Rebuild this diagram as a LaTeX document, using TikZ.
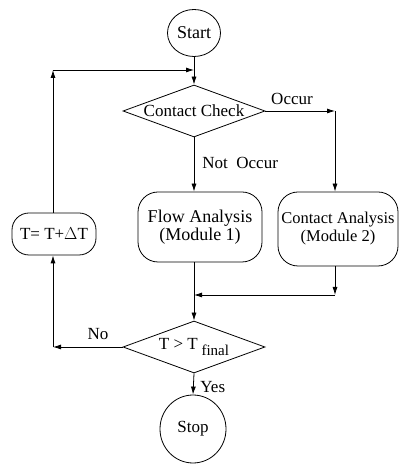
\documentclass[tikz,border=0pt]{standalone}
\usepackage{fontspec}
\setmainfont{Liberation Serif}
\usetikzlibrary{shapes.geometric,arrows.meta}
\begin{document}
\begin{tikzpicture}[x=1pt,y=1pt,
  line width=0.8pt,
  every node/.style={font=\fontsize{17}{19}\selectfont},
  arr/.style={-{Latex[length=8pt,width=5pt]}},
  term/.style={draw,ellipse,inner sep=0pt},
  rbox/.style={draw,rectangle,rounded corners=20pt,align=center,inner sep=0pt},
  dec/.style={draw,diamond,aspect=2.73,inner sep=0pt,minimum width=142pt,minimum height=52pt},
  lbl/.style={inner sep=1pt}]
\useasboundingbox (0,0) rectangle (400,465);
% nodes
\node[term,minimum width=53pt,minimum height=47pt,font=\fontsize{18}{20}\selectfont] (start) at (194,432) {Start};
\node[dec] (cc) at (194,354) {Contact Check};
\node[rbox,minimum width=124pt,minimum height=70pt,font=\fontsize{18}{18}\selectfont] (flow) at (200,238) {Flow Analysis\\(Module 1)};
\node[rbox,minimum width=120pt,minimum height=74pt,font=\fontsize{16.5}{18}\selectfont] (ca) at (338,236) {Contact Analysis\\(Module 2)};
\node[rbox,minimum width=84pt,minimum height=42pt,rounded corners=17pt] (inc) at (54,231) {T= T+$\Delta$T};
\node[dec] (fin) at (194,118) {T > T\raisebox{-0.65ex}{\fontsize{15}{15}\selectfont\ final}};
\node[term,minimum width=66pt,minimum height=68pt] (stop) at (193,36) {Stop};
% coordinates
\coordinate (tl) at (53,395);
\coordinate (tm) at (194,395);
\coordinate (occ) at (335,354);
\coordinate (m2) at (335,170);
\coordinate (mm) at (194,170);
\coordinate (no) at (53,118);
% connectors
\draw[arr] (start.south) -- (cc.north);
\draw[arr] (inc.north -| tl) -- (tl);
\draw[arr] (tl) -- (tm);
\draw[arr] (cc.east) -- (occ);
\draw[arr] (occ) -- (occ |- ca.north);
\draw[arr] (cc.south) -- (cc.south |- flow.north);
\draw[arr] (cc.south |- flow.south) -- (fin.north);
\draw[arr] (occ |- ca.south) -- (m2);
\draw[arr] (m2) -- (mm);
\draw[arr] (fin.west) -- (no);
\draw[arr] (no) -- (no |- inc.south);
\draw[arr] (fin.south) -- (stop.north);
% labels
\node[lbl] (lo) at (292,366) {Occur};
\node[lbl,anchor=west] (lno) at (201,302) {Not\ \ Occur};
\node[lbl] (lnn) at (98,131) {No};
\node[lbl,anchor=west] (ly) at (199,78) {Yes};
\end{tikzpicture}
\end{document}
